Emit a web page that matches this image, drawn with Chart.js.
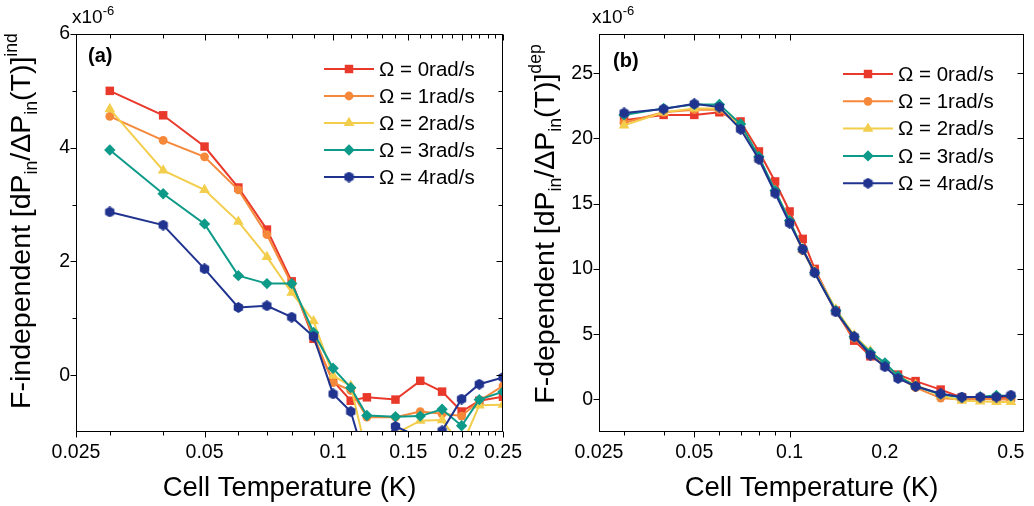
<!DOCTYPE html>
<html>
<head>
<meta charset="utf-8">
<script src="https://cdn.jsdelivr.net/npm/chart.js@4.4.0/dist/chart.umd.min.js"></script>
<style>
  body { margin: 0; background: #fff; }
  #wrap { position: relative; width: 1034px; height: 506px; }
  .panel { position: absolute; top: 0; height: 506px; }
</style>
</head>
<body>
<div id="wrap">
  <div class="panel" style="left:0;width:530px"><canvas id="chartA" width="530" height="506"></canvas></div>
  <div class="panel" style="left:517px;width:517px"><canvas id="chartB" width="517" height="506"></canvas></div>
</div>
<script>
// panel (a): F-independent part, x1e-6
const tempA = [0.03, 0.04, 0.05, 0.06, 0.07, 0.08, 0.09, 0.1, 0.11, 0.12, 0.14, 0.16, 0.18, 0.2, 0.22, 0.25];
const indW0 = [5.00, 4.57, 4.02, 3.30, 2.56, 1.65, 0.64, -0.10, -0.45, -0.39, -0.43, -0.10, -0.29, -0.64, -0.45, -0.38];
const indW1 = [4.55, 4.13, 3.84, 3.26, 2.47, 1.60, 0.70, -0.13, -0.27, -0.74, -0.74, -0.64, -0.68, -0.72, -0.45, -0.19];
const indW2 = [4.68, 3.60, 3.26, 2.70, 2.08, 1.45, 0.95, -0.01, -0.19, -1.40, -1.03, -0.80, -0.79, -1.25, -0.53, -0.52];
const indW3 = [3.96, 3.19, 2.66, 1.75, 1.61, 1.61, 0.75, 0.12, -0.22, -0.71, -0.73, -0.72, -0.60, -0.89, -0.43, -0.29];
const indW4 = [2.87, 2.64, 1.87, 1.19, 1.22, 1.02, 0.68, -0.33, -0.64, -1.60, -0.90, -1.10, -0.98, -0.42, -0.16, -0.04];

// panel (b): F-dependent part, x1e-6
const tempB = [0.03, 0.04, 0.05, 0.06, 0.07, 0.08, 0.09, 0.1, 0.11, 0.12, 0.14, 0.16, 0.18, 0.2, 0.22, 0.25, 0.3, 0.35, 0.4, 0.45, 0.5];
const depW0 = [21.4, 21.8, 21.8, 22.0, 21.3, 19.0, 16.7, 14.4, 12.3, 10.0, 6.8, 4.5, 3.3, 2.6, 1.9, 1.4, 0.75, 0.15, 0.1, 0.1, 0.15];
const depW1 = [21.2, 22.0, 22.2, 22.2, 20.9, 18.4, 15.9, 13.6, 11.4, 9.7, 6.7, 4.7, 3.5, 2.6, 1.7, 0.9, 0.1, 0.0, 0.05, 0.0, 0.0];
const depW2 = [21.0, 22.0, 22.3, 22.3, 21.0, 18.5, 16.0, 13.7, 11.5, 9.8, 6.9, 4.9, 3.7, 2.7, 1.8, 1.1, 0.3, -0.1, -0.15, -0.2, -0.2];
const depW3 = [21.8, 22.3, 22.6, 22.6, 21.1, 18.6, 16.0, 13.7, 11.5, 9.7, 6.8, 4.8, 3.6, 2.8, 1.8, 1.0, 0.4, 0.15, 0.2, 0.3, 0.25];
const depW4 = [21.95, 22.25, 22.65, 22.4, 20.7, 18.4, 15.8, 13.5, 11.5, 9.7, 6.7, 4.8, 3.4, 2.5, 1.6, 1.0, 0.43, 0.18, 0.18, 0.18, 0.33];

const omegaLabels = ["Ω = 0rad/s", "Ω = 1rad/s", "Ω = 2rad/s", "Ω = 3rad/s", "Ω = 4rad/s"];

const xTicksA = [0.025, 0.05, 0.1, 0.15, 0.2, 0.25];
const xMinorA = [0.03, 0.04, 0.06, 0.07, 0.08, 0.09, 0.11, 0.12, 0.13, 0.14, 0.16, 0.17, 0.18, 0.19, 0.21, 0.22, 0.23, 0.24];
const yTicksA = [0, 2, 4, 6];
const yMinorA = [1, 3, 5];

const xTicksB = [0.025, 0.05, 0.1, 0.2, 0.5];
const xMinorB = [0.03, 0.04, 0.06, 0.07, 0.08, 0.09];
const yTicksB = [0, 5, 10, 15, 20, 25];

const colors = ["#E8392B", "#F6883A", "#F3CD4C", "#0E9A88", "#20338F"];
const FONT = '"Liberation Sans", Arial, sans-serif';

// hexagon marker for the last series
const hex = document.createElement("canvas");
hex.width = 11;
hex.height = 11;
(function () {
  const c = hex.getContext("2d");
  c.fillStyle = colors[4];
  c.beginPath();
  for (let k = 0; k < 6; k++) {
    const a = Math.PI / 6 + k * Math.PI / 3;
    const px = 5.5 + 5.4 * Math.cos(a);
    const py = 5.5 + 5.4 * Math.sin(a);
    if (k === 0) c.moveTo(px, py); else c.lineTo(px, py);
  }
  c.closePath();
  c.fill();
})();

const pointStyles = ["rect", "circle", "triangle", "rectRot", hex];
const pointSizes = [6, 4.4, 6.2, 5.7, 5];

function makeSets(temps, series) {
  return series.map((vals, i) => ({
    label: omegaLabels[i],
    data: temps.map((t, j) => ({ x: t, y: vals[j] })),
    borderColor: colors[i],
    backgroundColor: colors[i],
    pointBackgroundColor: colors[i],
    pointBorderColor: colors[i],
    pointBorderWidth: 0,
    borderWidth: 2,
    pointStyle: pointStyles[i],
    pointRadius: pointSizes[i],
    order: 4 - i
  }));
}

function drawRich(ctx, segs, size, cx, cy, angle) {
  ctx.save();
  ctx.translate(cx, cy);
  ctx.rotate(angle);
  let total = 0;
  segs.forEach(s => {
    ctx.font = (s.sub || s.sup ? size * 0.62 : size) + "px " + FONT;
    s.w = ctx.measureText(s.t).width;
    total += s.w;
  });
  let x = -total / 2;
  ctx.fillStyle = "#000";
  ctx.textAlign = "left";
  ctx.textBaseline = "alphabetic";
  segs.forEach(s => {
    ctx.font = (s.sub || s.sup ? size * 0.62 : size) + "px " + FONT;
    const dy = s.sub ? size * 0.24 : s.sup ? -size * 0.45 : 0;
    ctx.fillText(s.t, x, dy);
    x += s.w;
  });
  ctx.restore();
}

const decorPlugin = {
  id: "decor",
  afterDraw(chart, args, o) {
    const ctx = chart.ctx;
    const a = chart.chartArea;
    const xs = chart.scales.x;
    const ys = chart.scales.y;
    ctx.save();
    ctx.strokeStyle = "#000";
    ctx.lineWidth = 1;

    // frame
    const L = Math.round(a.left) + 0.5, R = Math.round(a.right) - 0.5;
    const T = Math.round(a.top) + 0.5, B = Math.round(a.bottom) - 0.5;
    ctx.strokeRect(L, T, R - L, B - T);

    // ticks: out on bottom/left, in on top/right
    ctx.beginPath();
    const xt = o.xMajor.map(v => [v, 6]).concat(o.xMinor.map(v => [v, 4]));
    xt.forEach(([v, len]) => {
      const p = Math.round(xs.getPixelForValue(v)) + 0.5;
      ctx.moveTo(p, B); ctx.lineTo(p, B + len);
      ctx.moveTo(p, T); ctx.lineTo(p, T + len);
    });
    const yt = o.yMajor.map(v => [v, 6]).concat(o.yMinor.map(v => [v, 4]));
    yt.forEach(([v, len]) => {
      const p = Math.round(ys.getPixelForValue(v)) + 0.5;
      ctx.moveTo(L, p); ctx.lineTo(L - len, p);
      ctx.moveTo(R, p); ctx.lineTo(R - len, p);
    });
    ctx.stroke();

    // legend inside the plot
    chart.data.datasets.forEach((ds, i) => {
      const y = o.legY + i * o.legStep;
      const x0 = a.right - o.legRight;
      ctx.strokeStyle = ds.borderColor;
      ctx.lineWidth = 2;
      ctx.beginPath();
      ctx.moveTo(x0, y);
      ctx.lineTo(x0 + 50, y);
      ctx.stroke();
      ctx.fillStyle = ds.backgroundColor;
      Chart.helpers.drawPoint(ctx, {
        pointStyle: ds.pointStyle, radius: ds.pointRadius, rotation: 0, borderWidth: 0
      }, x0 + 25, y);
      ctx.fillStyle = "#000";
      ctx.font = "20.5px " + FONT;
      ctx.textAlign = "left";
      ctx.textBaseline = "middle";
      ctx.fillText(ds.label, x0 + 55, y + 1);
    });

    // panel label
    ctx.fillStyle = "#000";
    ctx.font = "bold 20px " + FONT;
    ctx.textAlign = "left";
    ctx.textBaseline = "middle";
    ctx.fillText(o.panel, a.left + o.panelDx, a.top + o.panelDy);

    // multiplier
    ctx.font = "19px " + FONT;
    ctx.textBaseline = "alphabetic";
    const mx = a.left - o.multDx;
    ctx.fillText("x10", mx, 23);
    const mw = ctx.measureText("x10").width;
    ctx.font = "13px " + FONT;
    ctx.fillText("-6", mx + mw, 15);

    // x title
    ctx.font = "27.5px " + FONT;
    ctx.textAlign = "center";
    ctx.fillText("Cell Temperature (K)", (a.left + a.right) / 2, 496);

    // y title with sub/superscripts
    drawRich(ctx, [
      { t: o.yPrefix + " [dP" },
      { t: "in", sub: true },
      { t: "/ΔP" },
      { t: "in", sub: true },
      { t: "(T)]" },
      { t: o.ySup, sup: true }
    ], 28.5, o.yTitleX, o.yTitleY, -Math.PI / 2);

    ctx.restore();
  }
};

function makeChart(id, temps, series, xMin, xMax, xTicks, yMin, yMax, yTicks, yWidth, padRight, deco) {
  return new Chart(document.getElementById(id), {
    type: "line",
    data: { datasets: makeSets(temps, series) },
    options: {
      responsive: false,
      devicePixelRatio: 1,
      animation: false,
      layout: { padding: { top: 34, right: padRight, left: 0, bottom: 0 } },
      plugins: {
        legend: { display: false },
        tooltip: { enabled: false },
        decor: deco
      },
      scales: {
        x: {
          type: "logarithmic",
          min: xMin,
          max: xMax,
          grid: { display: false, drawTicks: false },
          border: { display: false },
          afterBuildTicks: s => { s.ticks = xTicks.map(v => ({ value: v })); },
          afterFit: s => {
            s.height = 74;
            s.paddingLeft = 0;
            s.paddingRight = 0;
          },
          ticks: {
            autoSkip: false,
            maxRotation: 0,
            padding: 9,
            color: "#000",
            font: { family: FONT, size: 19.5 },
            callback: v => String(v)
          }
        },
        y: {
          min: yMin,
          max: yMax,
          grid: { display: false, drawTicks: false },
          border: { display: false },
          afterBuildTicks: s => { s.ticks = yTicks.map(v => ({ value: v })); },
          afterFit: s => {
            s.width = yWidth;
            s.paddingTop = 0;
            s.paddingBottom = 0;
          },
          ticks: {
            padding: 6,
            color: "#000",
            font: { family: FONT, size: 19.5 }
          }
        }
      }
    },
    plugins: [decorPlugin]
  });
}

makeChart("chartA", tempA, [indW0, indW1, indW2, indW3, indW4],
  0.025, 0.25, xTicksA, -1, 6, yTicksA, 76, 27, {
    xMajor: xTicksA, xMinor: xMinorA, yMajor: yTicksA, yMinor: yMinorA,
    legY: 69, legStep: 27, legRight: 179,
    panel: "(a)", panelDx: 12, panelDy: 22, multDx: 4,
    yPrefix: "F-independent", ySup: "ind", yTitleX: 30, yTitleY: 221
  });

makeChart("chartB", tempB, [depW0, depW1, depW2, depW3, depW4],
  0.025, 0.55, xTicksB, -2.5, 28, yTicksB, 82, 10, {
    xMajor: [0.05, 0.1], xMinor: xMinorB, yMajor: yTicksB, yMinor: [],
    legY: 74, legStep: 27.3, legRight: 181,
    panel: "(b)", panelDx: 14, panelDy: 27, multDx: 7,
    yPrefix: "F-dependent", ySup: "dep", yTitleX: 37, yTitleY: 224
  });
</script>
</body>
</html>
